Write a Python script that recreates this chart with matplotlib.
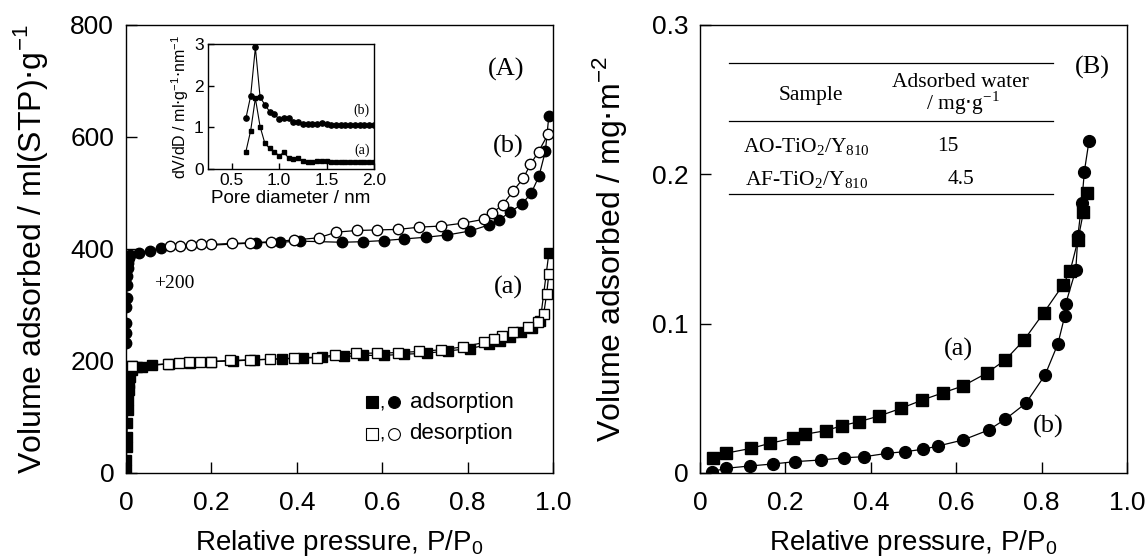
import matplotlib
matplotlib.use("Agg")
import matplotlib.pyplot as plt

SANS = ["Liberation Sans", "DejaVu Sans"]
SERIF = ["Liberation Serif", "DejaVu Serif"]

# (A) isotherm, sample (a): squares
a_ads_x = [0.0005, 0.001, 0.0015, 0.002, 0.003, 0.004, 0.005, 0.006, 0.008, 0.01,
           0.015, 0.025, 0.037, 0.06, 0.1, 0.15, 0.2, 0.25, 0.3, 0.365, 0.415, 0.46,
           0.511, 0.556, 0.603, 0.652, 0.705, 0.753, 0.805, 0.85, 0.875, 0.9, 0.924,
           0.951, 0.97, 0.99]
a_ads_y = [5, 23, 46, 64, 89, 112, 130, 148, 161, 171, 184, 189, 190, 192, 195, 197,
           199, 200, 202, 204, 206, 207, 208, 210, 210, 212, 214, 218, 222, 230, 235,
           242, 251, 259, 272, 392]
a_des_x = [0.99, 0.985, 0.978, 0.964, 0.941, 0.905, 0.88, 0.861, 0.838, 0.788, 0.738,
           0.687, 0.638, 0.588, 0.538, 0.49, 0.446, 0.394, 0.337, 0.29, 0.244, 0.198,
           0.173, 0.147, 0.123, 0.098, 0.013]
a_des_y = [355, 320, 284, 270, 260, 251, 245, 239, 233, 225, 220, 217, 215, 214, 214,
           211, 206, 204.5, 203, 202, 201, 199, 199, 198, 197, 195, 191]

# (A) isotherm, sample (b): circles, already shifted by +200
b_ads_x = [0.001, 0.001, 0.001, 0.001, 0.002, 0.002, 0.003, 0.004, 0.005, 0.007, 0.01,
           0.03, 0.056, 0.081, 0.305, 0.36, 0.407, 0.505, 0.555, 0.603, 0.652, 0.703,
           0.752, 0.805, 0.85, 0.874, 0.899, 0.927, 0.949, 0.967, 0.982, 0.99]
b_ads_y = [232, 250, 268, 297, 312, 336, 351, 366, 375, 384, 390, 392, 397, 402, 411,
           412, 414, 412, 413, 415, 418, 421, 425, 432, 443, 452, 466, 480, 500, 530,
           575, 637]
b_des_x = [0.989, 0.966, 0.947, 0.93, 0.907, 0.882, 0.857, 0.838, 0.788, 0.738, 0.687,
           0.638, 0.588, 0.54, 0.492, 0.451, 0.394, 0.34, 0.291, 0.248, 0.198, 0.175,
           0.152, 0.127, 0.104]
b_des_y = [606, 574, 551, 526, 504, 479, 464, 453, 446, 441, 439, 435, 434, 433, 430,
           420, 416, 413, 411, 410, 408, 408, 407, 406, 405]

# inset: pore size distribution
psd_x = [0.65, 0.70, 0.75, 0.80, 0.85, 0.90, 0.95, 1.00, 1.05, 1.10, 1.15, 1.20, 1.25,
         1.30, 1.35, 1.40, 1.45, 1.50, 1.55, 1.60, 1.65, 1.70, 1.75, 1.80, 1.85, 1.90,
         1.95, 2.00]
psd_a = [0.42, 0.92, 1.70, 1.02, 0.62, 0.50, 0.42, 0.32, 0.40, 0.27, 0.25, 0.27, 0.20,
         0.18, 0.18, 0.19, 0.20, 0.19, 0.18, 0.17, 0.17, 0.17, 0.17, 0.17, 0.17, 0.17,
         0.17, 0.17]
psd_b = [1.22, 1.75, 2.92, 1.72, 1.55, 1.38, 1.32, 1.20, 1.22, 1.22, 1.13, 1.12, 1.09,
         1.08, 1.08, 1.09, 1.10, 1.08, 1.06, 1.06, 1.06, 1.06, 1.05, 1.06, 1.05, 1.06,
         1.05, 1.05]

# (B) water adsorption
wa_x = [0.031, 0.060, 0.120, 0.164, 0.217, 0.245, 0.294, 0.333, 0.373, 0.420, 0.471,
        0.521, 0.570, 0.616, 0.671, 0.715, 0.759, 0.805, 0.850, 0.867, 0.885, 0.898,
        0.907]
wa_y = [0.0098, 0.0132, 0.0165, 0.0199, 0.0232, 0.0259, 0.0283, 0.0317, 0.0344, 0.0382,
        0.0433, 0.0489, 0.0538, 0.0583, 0.0668, 0.0757, 0.0891, 0.1073, 0.1259, 0.1355,
        0.156, 0.175, 0.1877]
wb_x = [0.029, 0.060, 0.117, 0.170, 0.223, 0.283, 0.338, 0.385, 0.439, 0.481, 0.523,
        0.558, 0.616, 0.676, 0.715, 0.763, 0.808, 0.838, 0.854, 0.856, 0.880, 0.885,
        0.894, 0.900, 0.911]
wb_y = [0.0009, 0.0031, 0.0047, 0.0060, 0.0076, 0.0087, 0.0102, 0.0109, 0.0132, 0.0143,
        0.0159, 0.0181, 0.0221, 0.0288, 0.0360, 0.0467, 0.0656, 0.0864, 0.105, 0.113,
        0.136, 0.159, 0.181, 0.2018, 0.2225]

table_samples = [r"AO-TiO$_\mathregular{2}$/Y$_\mathregular{810}$",
                 r"AF-TiO$_\mathregular{2}$/Y$_\mathregular{810}$"]
table_water = ["15", "4.5"]


def style_axes(ax, size, pad_x, pad_y, length):
    ax.tick_params(top=False, right=False)
    ax.tick_params(direction="in", length=length, width=1.0, labelsize=size)
    ax.tick_params(axis="x", pad=pad_x)
    ax.tick_params(axis="y", pad=pad_y)
    for s in ax.spines.values():
        s.set_linewidth(1.0)
    for lab in ax.get_xticklabels() + ax.get_yticklabels():
        lab.set_family(SANS)


def big_labels(ax, xlabel, ylabel, ylabel_x):
    ax.set_xlabel(xlabel, family=SANS, fontsize=20)
    ax.xaxis.set_label_coords(0.5, -0.122)
    ax.xaxis.label.set_va("top")
    ax.set_ylabel(ylabel, family=SANS, fontsize=23)
    ax.yaxis.set_label_coords(ylabel_x, 0.5)
    ax.yaxis.label.set_va("center")


def serif_text(ax, x, y, s, size):
    ax.text(x, y, s, transform=ax.transAxes, family=SERIF, fontsize=size,
            ha="center", va="center")


fig = plt.figure(figsize=(11.47, 5.6), dpi=100)
axA = fig.add_axes([0.1099, 0.1554, 0.3723, 0.80])
axB = fig.add_axes([0.6103, 0.1554, 0.3723, 0.80])

line = dict(color="black", lw=0.9)
axA.plot(a_ads_x, a_ads_y, marker="s", ms=7, mfc="black", mec="black", **line)
axA.plot(a_des_x, a_des_y, marker="s", ms=7, mfc="white", mec="black", mew=1.0, **line)
axA.plot(b_ads_x, b_ads_y, marker="o", ms=7.5, mfc="black", mec="black", **line)
axA.plot(b_des_x, b_des_y, marker="o", ms=7.5, mfc="white", mec="black", mew=1.0, **line)
axA.set_xlim(0, 1.0)
axA.set_ylim(0, 800)
axA.set_xticks([0, 0.2, 0.4, 0.6, 0.8, 1.0])
axA.set_xticklabels(["0", "0.2", "0.4", "0.6", "0.8", "1.0"])
axA.set_yticks([0, 200, 400, 600, 800])
axA.set_yticklabels(["0", "200", "400", "600", "800"])
style_axes(axA, 19, 13, 8.5, 8)
big_labels(axA, r"Relative pressure, P/P$_\mathregular{0}$",
           r"Volume adsorbed / ml(STP)$\cdot$g$^\mathregular{-1}$", -0.224)
serif_text(axA, 0.89, 0.90, "(A)", 19)
serif_text(axA, 0.894, 0.728, "(b)", 19)
serif_text(axA, 0.895, 0.415, "(a)", 19)
serif_text(axA, 0.112, 0.424, "+200", 14)

# legend written by hand, as in the original
for yy, fill in ((0.158, "black"), (0.088, "white")):
    axA.plot([0.575], [yy], transform=axA.transAxes, marker="s", ms=8, mfc=fill,
             mec="black", mew=0.8, ls="none", clip_on=False)
    axA.plot([0.628], [yy], transform=axA.transAxes, marker="o", ms=8.5, mfc=fill,
             mec="black", mew=0.8, ls="none", clip_on=False)
    axA.text(0.600, yy - 0.004, ",", transform=axA.transAxes, family=SANS,
             fontsize=14, ha="center", va="center")
axA.text(0.664, 0.158, "adsorption", transform=axA.transAxes, family=SANS,
         fontsize=16, ha="left", va="center")
axA.text(0.664, 0.088, "desorption", transform=axA.transAxes, family=SANS,
         fontsize=16, ha="left", va="center")

# inset
axI = fig.add_axes([0.1813, 0.698, 0.1447, 0.2232])
axI.plot(psd_x, psd_a, marker="s", ms=3.5, color="black", lw=0.8)
axI.plot(psd_x, psd_b, marker="o", ms=3.8, color="black", lw=0.8)
axI.set_xlim(0.25, 2.0)
axI.set_ylim(0, 3)
axI.set_xticks([0.5, 1.0, 1.5, 2.0])
axI.set_xticklabels(["0.5", "1.0", "1.5", "2.0"])
axI.set_yticks([0, 1, 2, 3])
axI.set_yticklabels(["0", "1", "2", "3"])
style_axes(axI, 12.5, 3, 3, 4)
axI.set_xlabel("Pore diameter / nm", family=SANS, fontsize=13.5, labelpad=1)
axI.set_ylabel(r"dV/dD / ml$\cdot$g$^\mathregular{-1}$$\cdot$nm$^\mathregular{-1}$",
               family=SANS, fontsize=11.5, labelpad=2)
serif_text(axI, 0.926, 0.47, "(b)", 10)
serif_text(axI, 0.926, 0.152, "(a)", 10)

# panel B
axB.plot(wa_x, wa_y, marker="s", ms=8, color="black", lw=0.9)
axB.plot(wb_x, wb_y, marker="o", ms=8.5, color="black", lw=0.9)
axB.set_xlim(0, 1.0)
axB.set_ylim(0, 0.3)
axB.set_xticks([0, 0.2, 0.4, 0.6, 0.8, 1.0])
axB.set_xticklabels(["0", "0.2", "0.4", "0.6", "0.8", "1.0"])
axB.set_yticks([0, 0.1, 0.2, 0.3])
axB.set_yticklabels(["0", "0.1", "0.2", "0.3"])
style_axes(axB, 19, 13, 8.5, 8)
big_labels(axB, r"Relative pressure, P/P$_\mathregular{0}$",
           r"Volume adsorbed / mg$\cdot$m$^\mathregular{-2}$", -0.211)
serif_text(axB, 0.918, 0.906, "(B)", 19)
serif_text(axB, 0.605, 0.275, "(a)", 19)
serif_text(axB, 0.815, 0.103, "(b)", 19)

# table inside panel B
for yl in (0.915, 0.786, 0.623):
    axB.plot([0.068, 0.826], [yl, yl], transform=axB.transAxes, color="black", lw=0.9)
serif_text(axB, 0.26, 0.842, "Sample", 15.5)
serif_text(axB, 0.61, 0.872, "Adsorbed water", 15.5)
serif_text(axB, 0.615, 0.826, r"/ mg$\cdot$g$^\mathregular{-1}$", 15.5)
for i, (name, val) in enumerate(zip(table_samples, table_water)):
    yy = 0.728 - i * 0.074
    serif_text(axB, 0.249, yy, name, 15.5)
    serif_text(axB, 0.58 + 0.03 * i, yy, val, 15.5)

fig.savefig("out.png", dpi=100)
